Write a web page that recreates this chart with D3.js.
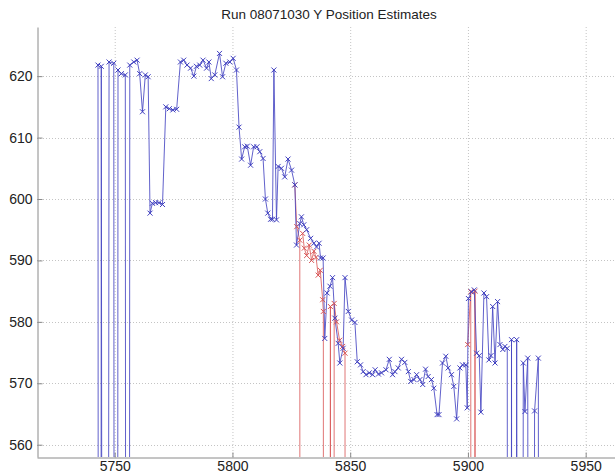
<!DOCTYPE html>
<html><head><meta charset="utf-8">
<script src="https://cdn.jsdelivr.net/npm/d3@7"></script>
<style>body{margin:0;background:#fff}svg{display:block}text{font-family:"Liberation Sans",Arial,sans-serif;fill:#222}</style>
</head><body><svg id="c" width="615" height="476"></svg>
<script>
const title = "Run 08071030 Y Position Estimates";
const xTicks = [5750, 5800, 5850, 5900, 5950];
const yTicks = [560, 570, 580, 590, 600, 610, 620];

// Blue track (0 = lost estimate, drawn as drop to zero)
const blueX = [5742.9,5743.6,5744.3,5746.0,5747.6,5749.6,5750.5,5751.4,5752.8,5754.5,5755.5,5756.4,5758.1,5759.5,5760.6,5761.8,5763.0,5764.2,5765.0,5766.0,5767.4,5768.8,5770.3,5771.7,5773.2,5774.7,5776.3,5777.9,5779.3,5780.7,5782.2,5783.6,5784.7,5786.1,5787.5,5789.0,5790.0,5791.0,5792.5,5794.5,5795.8,5797.2,5798.9,5800.3,5801.7,5802.8,5803.9,5805.2,5806.3,5807.7,5809.0,5810.4,5811.6,5813.0,5814.0,5815.0,5816.2,5817.0,5817.6,5818.7,5819.4,5820.8,5822.2,5823.6,5825.1,5826.5,5827.2,5828.6,5829.3,5830.3,5831.5,5833.2,5834.6,5835.7,5836.8,5837.4,5838.5,5839.2,5840.2,5841.4,5842.5,5843.5,5844.9,5845.6,5847.0,5847.8,5849.2,5850.6,5852.0,5853.0,5854.4,5855.5,5856.7,5858.1,5859.5,5860.6,5862.0,5863.3,5865.2,5866.6,5868.0,5869.0,5870.4,5871.8,5873.2,5874.7,5875.7,5877.1,5878.2,5879.6,5880.8,5882.0,5883.1,5884.5,5885.5,5886.9,5887.7,5889.2,5890.6,5891.6,5893.0,5894.0,5895.2,5896.6,5897.7,5899.1,5899.7,5900.2,5901.5,5902.7,5903.7,5904.8,5905.5,5906.8,5907.9,5908.9,5909.8,5910.5,5911.5,5912.6,5913.6,5914.8,5915.7,5916.7,5917.6,5918.5,5919.6,5920.7,5922.1,5923.5,5924.2,5925.4,5926.8,5928.3,5929.9,5930.8];
const blueY = [621.8,0,621.6,0,622.3,622.1,0,621.0,620.4,620.2,0,621.8,622.3,622.6,620.4,614.2,620.2,619.9,597.7,599.3,599.4,599.4,599.1,615.0,614.7,614.5,614.6,622.3,622.6,621.8,621.3,620.0,621.6,621.8,622.6,621.3,622.3,619.6,620.2,623.7,619.9,622.1,622.3,622.9,621.0,611.7,606.5,608.5,608.6,605.5,608.5,608.5,607.7,606.6,600.0,597.7,596.7,596.7,621.0,596.6,605.3,605.0,603.6,606.5,604.7,602.3,592.5,596.0,597.1,595.8,595.0,593.6,592.8,592.2,592.8,590.4,590.4,577.3,584.7,585.8,587.2,580.6,576.5,573.3,575.7,587.2,581.7,580.3,579.9,573.5,573.0,571.9,571.4,571.7,571.4,572.2,571.5,571.7,572.2,573.9,571.4,571.9,572.5,573.9,573.4,571.9,570.3,570.6,571.4,570.6,569.8,572.3,571.1,570.6,569.2,564.9,564.9,573.3,574.4,572.5,571.4,569.5,564.2,572.5,573.0,573.0,566.0,583.8,584.9,585.2,574.9,574.5,565.3,584.7,584.1,573.8,574.5,582.5,573.3,583.3,576.3,575.5,576.0,575.7,0,577.1,0,577.1,0,573.3,565.4,574.1,0,565.5,574.1,0];

// Red track (null = gap)
const redX = [5826.5,5827.3,5828.6,5829.0,null,5829.8,5830.5,5831.5,5832.6,5833.6,5834.6,5835.5,5836.4,5837.3,5838.3,5838.6,5839.0,null,5840.6,5841.6,5842.2,5842.7,5843.2,5844.2,5845.5,5846.8,5847.8,5848.2,null,5899.9,5901.2,5901.8,null,5902.5,5903.0,5903.5];
const redY = [602.3,595.5,593.3,0,null,594.4,592.0,590.8,592.5,590.0,591.5,590.5,587.6,588.4,583.6,581.7,0,null,0,582.5,0,0,583.0,580.0,577.0,576.0,574.9,0,null,576.3,584.9,0,null,0,585.0,0];

const W = 615, H = 476;
const L = 37, R = 621, T = 27, B = 457;
const svg = d3.select("#c");
const x = d3.scaleLinear().domain([5717, 5965]).range([L, R]);
const y = d3.scaleLinear().domain([558, 628]).range([B, T]);

svg.append("defs").append("clipPath").attr("id","clip")
  .append("rect").attr("x",L).attr("y",T).attr("width",R-L).attr("height",B-T);

// grid
const g = svg.append("g");
g.selectAll(".gx").data(xTicks).join("line")
  .attr("x1",d=>x(d)+0.5).attr("x2",d=>x(d)+0.5).attr("y1",T).attr("y2",B)
  .attr("stroke","#c4c4c4").attr("stroke-dasharray","1,2");
g.selectAll(".gy").data(yTicks).join("line")
  .attr("x1",L).attr("x2",R).attr("y1",d=>Math.round(y(d))+0.5).attr("y2",d=>Math.round(y(d))+0.5)
  .attr("stroke","#c4c4c4").attr("stroke-dasharray","1,2");

// axes
const ax = svg.append("g").attr("transform",`translate(0,${B+0.5})`)
  .call(d3.axisBottom(x).tickValues(xTicks).tickFormat(d3.format("d")).tickSizeInner(-5).tickSizeOuter(0).tickPadding(4));
const ay = svg.append("g").attr("transform",`translate(${L+0.5},0)`)
  .call(d3.axisLeft(y).tickValues(yTicks).tickFormat(d3.format("d")).tickSizeInner(-5).tickSizeOuter(0).tickPadding(5));
[ax, ay].forEach(a => {
  a.select(".domain").attr("stroke","#8a8a8a");
  a.selectAll(".tick line").attr("stroke","#8a8a8a");
  a.selectAll("text").attr("font-size","14px").attr("fill","#222")
    .attr("font-family","'Liberation Sans',Arial,sans-serif");
});

svg.append("text").attr("x",(L+R)/2).attr("y",19).attr("text-anchor","middle")
  .attr("font-size","13.5px").text(title);

const plot = svg.append("g").attr("clip-path","url(#clip)");
const blue = blueX.map((d,i)=>({x:d,y:blueY[i]}));
const red = redX.map((d,i)=>({x:d,y:redY[i]}));
const line = d3.line().defined(d=>d.x!==null && d.y!==null).x(d=>x(d.x)).y(d=>y(d.y));

plot.append("path").datum(red).attr("d",line).attr("fill","none")
  .attr("stroke","#d85454").attr("stroke-width",1).attr("stroke-opacity",0.8);
plot.append("path").datum(blue).attr("d",line).attr("fill","none")
  .attr("stroke","#4545c2").attr("stroke-width",1).attr("stroke-opacity",0.85);

const xm = "M-2.5,-2.5L2.5,2.5M-2.5,2.5L2.5,-2.5";
plot.selectAll(".mr").data(red.filter(d=>d.y)).join("path")
  .attr("transform",d=>`translate(${x(d.x)},${y(d.y)})`).attr("d",xm)
  .attr("stroke","#d85454").attr("fill","none").attr("stroke-width",1);
plot.selectAll(".mb").data(blue.filter(d=>d.y)).join("path")
  .attr("transform",d=>`translate(${x(d.x)},${y(d.y)})`).attr("d",xm)
  .attr("stroke","#4040c0").attr("fill","none").attr("stroke-width",1);
</script></body></html>
